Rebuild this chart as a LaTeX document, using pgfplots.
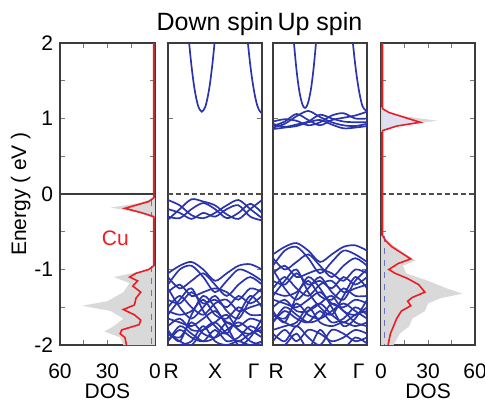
\documentclass[border=0pt]{standalone}
\usepackage{fontspec}
\setmainfont{Liberation Sans}
\usepackage{pgfplots}
\usepackage{pgfplotstable}
\pgfplotsset{compat=1.18}
\definecolor{bandblue}{RGB}{42,52,172}
\definecolor{dosred}{RGB}{235,30,35}
\definecolor{axgray}{RGB}{60,60,60}

\pgfplotstableread{
k n1 n2 n3 n4 v1 v2 v3 v4 v5 v6 v7 v8 v9 v10 v11 v12 v13 v14 v15 v16 v17
0    -0.34 -0.08 -0.30 -0.20 -1.05 -1.20 -1.10 -1.30 -1.40 -1.50 -1.55 -1.65 -1.75 -1.85 -1.95 -2.05 -1.25 -1.60 -1.80 -1.85 -1.95
0.25 -0.20 -0.15 -0.32 -0.25 -0.95 -1.00 -1.25 -1.20 -1.45 -1.35 -1.60 -1.70 -1.65 -1.90 -1.80 -2.00 -1.50 -1.40 -1.95 -1.95 -1.75
0.5  -0.07 -0.28 -0.20 -0.33 -0.90 -0.95 -1.15 -1.35 -1.30 -1.50 -1.55 -1.75 -1.80 -1.70 -1.90 -1.95 -1.65 -1.25 -1.60 -2.00 -1.85
0.75 -0.10 -0.32 -0.12 -0.25 -1.00 -1.10 -1.05 -1.30 -1.45 -1.60 -1.40 -1.65 -1.80 -1.85 -1.95 -1.75 -1.50 -1.55 -1.35 -1.80 -1.95
1    -0.15 -0.25 -0.20 -0.30 -1.15 -1.30 -1.20 -1.25 -1.40 -1.45 -1.60 -1.55 -1.70 -1.90 -1.80 -1.95 -1.35 -1.75 -1.50 -1.70 -1.90
1.25 -0.27 -0.15 -0.32 -0.20 -1.05 -1.15 -1.35 -1.30 -1.50 -1.40 -1.65 -1.70 -1.60 -1.80 -1.95 -2.00 -1.55 -1.85 -1.75 -1.85 -1.70
1.5  -0.33 -0.08 -0.25 -0.15 -0.95 -1.00 -1.20 -1.40 -1.35 -1.55 -1.50 -1.75 -1.80 -1.70 -1.90 -1.95 -1.65 -1.60 -2.00 -1.95 -1.80
1.75 -0.20 -0.20 -0.13 -0.30 -0.93 -1.05 -1.10 -1.25 -1.45 -1.50 -1.60 -1.65 -1.85 -1.80 -1.75 -2.00 -1.40 -1.35 -1.90 -1.85 -1.95
2    -0.08 -0.32 -0.25 -0.35 -1.00 -1.15 -1.20 -1.30 -1.35 -1.45 -1.60 -1.70 -1.75 -1.90 -1.85 -1.95 -1.25 -1.50 -1.65 -1.80 -2.00
}\downtab

\pgfplotstableread{
k u1 u2 u3 u4 u5 v1 v2 v3 v4 v5 v6 v7 v8 v9 v10 v11 v12 v13 v14 v15 v16 v17 w18 w19 w20
0    0.88 0.90 0.93 0.96 0.86 -0.80 -0.95 -0.85 -1.05 -1.15 -1.25 -1.30 -1.40 -1.50 -1.60 -1.70 -1.80 -1.00 -1.35 -1.55 -1.60 -1.70 -1.85 -1.95 -2.05
0.25 0.93 0.96 0.89 0.99 0.88 -0.70 -0.75 -1.00 -0.95 -1.20 -1.10 -1.35 -1.45 -1.40 -1.65 -1.55 -1.75 -1.25 -1.15 -1.70 -1.70 -1.50 -1.95 -1.80 -2.00
0.5  1.03 1.06 0.92 0.97 0.90 -0.65 -0.70 -0.90 -1.10 -1.05 -1.25 -1.30 -1.50 -1.55 -1.45 -1.65 -1.70 -1.40 -1.00 -1.35 -1.75 -1.60 -1.75 -1.95 -1.85
0.75 1.10 0.98 0.96 0.91 0.95 -0.75 -0.85 -0.80 -1.05 -1.20 -1.35 -1.15 -1.40 -1.55 -1.60 -1.70 -1.50 -1.25 -1.30 -1.10 -1.55 -1.70 -1.90 -1.80 -2.05
1    1.02 0.91 1.05 0.95 0.98 -0.90 -1.05 -0.95 -1.00 -1.15 -1.20 -1.35 -1.30 -1.45 -1.65 -1.55 -1.70 -1.10 -1.50 -1.25 -1.45 -1.65 -2.00 -1.85 -1.80
1.25 0.95 0.98 1.00 1.04 0.92 -0.80 -0.90 -1.10 -1.05 -1.25 -1.15 -1.40 -1.45 -1.35 -1.55 -1.70 -1.75 -1.30 -1.60 -1.50 -1.60 -1.45 -1.80 -1.95 -2.00
1.5  0.91 1.01 0.96 1.07 0.87 -0.70 -0.75 -0.95 -1.15 -1.10 -1.30 -1.25 -1.50 -1.55 -1.45 -1.65 -1.70 -1.40 -1.35 -1.75 -1.70 -1.55 -1.85 -1.90 -2.05
1.75 0.90 1.04 0.95 1.00 0.88 -0.68 -0.80 -0.85 -1.00 -1.20 -1.25 -1.35 -1.40 -1.60 -1.55 -1.50 -1.75 -1.15 -1.10 -1.65 -1.60 -1.70 -1.95 -1.80 -1.90
2    0.93 1.09 0.95 1.00 0.90 -0.75 -0.90 -0.95 -1.05 -1.10 -1.20 -1.35 -1.45 -1.50 -1.65 -1.60 -1.70 -1.00 -1.25 -1.40 -1.55 -1.75 -1.90 -1.85 -1.98
}\uptab

\pgfplotsset{
  panel/.style={scale only axis, height=151pt, ymin=-2, ymax=2,
    axis line style={axgray, line width=0.9pt},
    tick style={axgray!70, line width=0.4pt}, tick align=inside,
    major tick length=2.5pt,
    font=\fontsize{10.5}{12}\selectfont,
    ticklabel style={font=\fontsize{10.5}{12}\selectfont},
    label style={font=\fontsize{10.5}{12}\selectfont}},
  band/.style={bandblue, line width=0.85pt, smooth, no marks},
  bpanel/.style={panel, width=47pt, xmin=0, xmax=2,
    xtick={0.07,1,1.82}, xticklabels={R,X,Γ},
    x tick style={draw=none},
    ytick={-2,-1,0,1,2}, yticklabels={},
    xticklabel style={yshift=-6pt},
    title style={font=\fontsize{12.5}{14}\selectfont, yshift=-6pt}},
  dpanel/.style={panel, width=47pt, xmin=0, xmax=60,
    xtick={0,15,30,45,60}, xticklabels={0,,30,,60},
    ytick={-2,-1.5,...,2},
    xticklabel style={yshift=-6pt},
    xlabel=DOS, xlabel style={at={(axis description cs:0.5,0)}, anchor=base, yshift=-26.6pt}},
}

\begin{document}
\begin{tikzpicture}
\useasboundingbox (0,0) rectangle (242.5pt,200.5pt);

% Panel 1: down-spin DOS
\begin{axis}[dpanel, at={(30pt,28pt)}, anchor=south west, width=47.5pt,
  x dir=reverse, yticklabels={-2,,-1,,0,,1,,2},
  ylabel={Energy ( eV )}, ylabel style={yshift=-5pt}]
\addplot[fill=black!15, draw=none] coordinates {
(0,2) (0,-0.05) (10,-0.12) (28,-0.18) (12,-0.24) (0,-0.32) (0,-0.95)
(8,-1.02) (26,-1.1) (16,-1.18) (20,-1.3) (30,-1.42) (46,-1.48) (28,-1.55)
(20,-1.65) (26,-1.75) (32,-1.82) (22,-1.9) (20,-2.0) (0,-2.0)} -- cycle;
\addplot[bandblue!70, dashed, line width=0.6pt] coordinates {(2,-0.08) (2,-0.3)};
\addplot[bandblue!70, dashed, line width=0.6pt] coordinates {(2,-0.95) (2,-2)};
\addplot[axgray, line width=0.9pt] coordinates {(0,0) (60,0)};
\addplot[dosred, line width=0.8pt, no marks] coordinates {
(0.8,2) (0.8,-0.05) (4,-0.1) (19,-0.19) (8,-0.25) (0.8,-0.3) (0.8,-0.95)
(4,-1.0) (12,-1.05) (16,-1.1) (11,-1.15) (14,-1.22) (9,-1.3) (12,-1.38)
(13,-1.47) (20,-1.53) (13,-1.6) (9,-1.67) (10,-1.73) (21,-1.8) (22,-1.85)
(19,-1.9) (18,-2.0)};
\node[dosred, font=\fontsize{10.5}{12}\selectfont] at (axis cs:25,-0.58) {Cu};
\end{axis}

% Panel 2: down-spin bands
\begin{axis}[bpanel, at={(84pt,28pt)}, anchor=south west, title={Down spin}]
\addplot[black!70, dash pattern=on 2.5pt off 1.5pt, line width=0.6pt] coordinates {(0,0) (2,0)};
\pgfplotsinvokeforeach{n1,n2,n3,n4,v1,v2,v3,v4,v5,v6,v7,v8,v9,v10,v11,v12,v13,v14,v15,v16,v17}{
  \addplot[band] table[x=k, y=#1] {\downtab};
}
\addplot[band] coordinates {(0.40,2.37) (0.45,2.0) (0.5,1.695) (0.55,1.45) (0.6,1.27) (0.65,1.15) (0.72,1.09) (0.79,1.15) (0.84,1.27) (0.89,1.45) (0.94,1.695) (0.99,2.0) (1.04,2.37)};
\addplot[band] coordinates {(1.65,2.33) (1.7,2.0) (1.75,1.71) (1.8,1.48) (1.85,1.30) (1.9,1.17) (1.95,1.10) (2.0,1.07)};
\end{axis}

% Panel 3: up-spin bands
\begin{axis}[bpanel, at={(136.5pt,28pt)}, anchor=south west, title={Up spin}]
\addplot[black!70, dash pattern=on 2.5pt off 1.5pt, line width=0.6pt] coordinates {(0,0) (2,0)};
\pgfplotsinvokeforeach{u1,u2,u3,u4,u5,v1,v2,v3,v4,v5,v6,v7,v8,v9,v10,v11,v12,v13,v14,v15,v16,v17,w18,w19,w20}{
  \addplot[band] table[x=k, y=#1] {\uptab};
}
\addplot[band] coordinates {(0.4,2.36) (0.45,1.97) (0.5,1.645) (0.55,1.40) (0.6,1.24) (0.64,1.165) (0.68,1.14) (0.72,1.165) (0.76,1.24) (0.81,1.40) (0.86,1.645) (0.91,1.97) (0.96,2.36)};
\addplot[band] coordinates {(1.65,2.33) (1.7,2.0) (1.75,1.71) (1.8,1.48) (1.85,1.30) (1.9,1.17) (1.95,1.12) (2.0,1.10)};
\end{axis}

% Panel 4: up-spin DOS
\begin{axis}[dpanel, at={(190.5pt,28pt)}, anchor=south west, yticklabels={}]
\addplot[fill=black!15, draw=none] coordinates {
(0,2) (0,1.15) (8,1.05) (36,0.97) (8,0.9) (0,0.82) (0,-0.55) (6,-0.65)
(16,-0.8) (22,-0.88) (14,-0.95) (16,-1.05) (30,-1.15) (42,-1.25) (52,-1.32)
(38,-1.38) (30,-1.45) (28,-1.55) (20,-1.65) (18,-1.75) (12,-1.85) (8,-2.0) (0,-2.0)} -- cycle;
\addplot[fill=bandblue!15, draw=none] coordinates {(1,1.1) (5,1.08) (25,0.95) (10,0.9) (1,0.84)} -- cycle;
\addplot[bandblue!70, dashed, line width=0.6pt] coordinates {(2,-0.55) (2,-2)};
\addplot[black!70, dash pattern=on 2.5pt off 1.5pt, line width=0.6pt] coordinates {(0,0) (60,0)};
\addplot[dosred, line width=0.8pt, no marks] coordinates {
(1,2) (1,1.13) (5,1.08) (25,0.95) (10,0.9) (1,0.84) (1,-0.55) (3,-0.62)
(7,-0.7) (13,-0.78) (19,-0.86) (11,-0.92) (5,-1.0) (9,-1.05) (17,-1.12)
(24,-1.2) (28,-1.3) (20,-1.37) (17,-1.42) (19,-1.48) (13,-1.55) (10,-1.65)
(8,-1.75) (6,-1.85) (4.5,-2.0)};
\end{axis}
\end{tikzpicture}
\end{document}
